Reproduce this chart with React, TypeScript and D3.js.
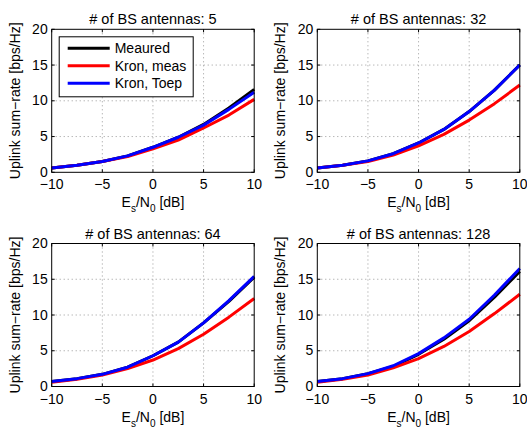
import React from "react";
import * as d3 from "d3";

const snr = [-10, -7.5, -5, -2.5, 0, 2.5, 5, 7.5, 10];
const panelTitles = ["# of BS antennas: 5", "# of BS antennas: 32", "# of BS antennas: 64", "# of BS antennas: 128"];
const seriesNames = ["Meaured", "Kron, meas", "Kron, Toep"];
const seriesColors = ["#000000", "#ff0000", "#0000ff"];

const measured5 = [0.6, 1.0, 1.5, 2.3, 3.5, 4.9, 6.7, 9.0, 11.6];
const kronMeas5 = [0.6, 1.0, 1.5, 2.2, 3.3, 4.5, 6.2, 8.0, 10.2];
const kronToep5 = [0.6, 1.0, 1.5, 2.3, 3.5, 4.9, 6.6, 8.8, 11.2];

const measured32 = [0.6, 1.0, 1.6, 2.6, 4.1, 6.0, 8.5, 11.5, 15.0];
const kronMeas32 = [0.6, 1.0, 1.5, 2.4, 3.7, 5.3, 7.3, 9.6, 12.2];
const kronToep32 = [0.6, 1.0, 1.6, 2.6, 4.1, 6.0, 8.5, 11.5, 15.0];

const measured64 = [0.7, 1.1, 1.7, 2.7, 4.3, 6.2, 8.9, 11.9, 15.3];
const kronMeas64 = [0.6, 1.0, 1.6, 2.5, 3.7, 5.3, 7.3, 9.7, 12.3];
const kronToep64 = [0.7, 1.1, 1.7, 2.7, 4.3, 6.2, 8.9, 12.0, 15.4];

const measured128 = [0.7, 1.1, 1.8, 2.8, 4.5, 6.6, 9.2, 12.5, 16.1];
const kronMeas128 = [0.6, 1.0, 1.6, 2.6, 3.9, 5.6, 7.7, 10.2, 12.9];
const kronToep128 = [0.7, 1.1, 1.8, 2.9, 4.6, 6.8, 9.4, 12.8, 16.5];

const xTicks = [-10, -5, 0, 5, 10];
const yTicks = [0, 5, 10, 15, 20];

const panels = [
  [measured5, kronMeas5, kronToep5],
  [measured32, kronMeas32, kronToep32],
  [measured64, kronMeas64, kronToep64],
  [measured128, kronMeas128, kronToep128],
];

const FONT = "'Liberation Sans', Arial, Helvetica, sans-serif";
const FS = 14;
const fmt = (v: number) => (v < 0 ? "\u2212" + Math.abs(v) : String(v));

function Panel({ idx, x0, y0 }: { idx: number; x0: number; y0: number }) {
  const w = 202.5;
  const h = 143;
  const x = d3.scaleLinear().domain([-10, 10]).range([x0, x0 + w]);
  const y = d3.scaleLinear().domain([0, 20]).range([y0 + h, y0]);
  const line = d3
    .line<number>()
    .x((_, i) => x(snr[i]))
    .y((d) => y(d));
  const tl = 3;
  return (
    <g>
      {xTicks.slice(1, -1).map((t) => (
        <line key={"gx" + t} x1={x(t)} x2={x(t)} y1={y0} y2={y0 + h} stroke="#999" strokeWidth={1} strokeDasharray="1,3" />
      ))}
      {yTicks.slice(1, -1).map((t) => (
        <line key={"gy" + t} x1={x0} x2={x0 + w} y1={y(t)} y2={y(t)} stroke="#999" strokeWidth={1} strokeDasharray="1,3" />
      ))}
      {xTicks.map((t) => (
        <g key={"tx" + t}>
          <line x1={x(t)} x2={x(t)} y1={y0 + h} y2={y0 + h - tl} stroke="#000" />
          <line x1={x(t)} x2={x(t)} y1={y0} y2={y0 + tl} stroke="#000" />
          <text x={x(t)} y={y0 + h + 17} textAnchor="middle" fontSize={FS} fontFamily={FONT}>
            {fmt(t)}
          </text>
        </g>
      ))}
      {yTicks.map((t) => (
        <g key={"ty" + t}>
          <line x1={x0} x2={x0 + tl} y1={y(t)} y2={y(t)} stroke="#000" />
          <line x1={x0 + w} x2={x0 + w - tl} y1={y(t)} y2={y(t)} stroke="#000" />
          <text x={x0 - 4} y={y(t) + 4.5} textAnchor="end" fontSize={FS} fontFamily={FONT}>
            {fmt(t)}
          </text>
        </g>
      ))}
      {panels[idx].map((vals, s) => (
        <path key={"s" + s} d={line(vals) || ""} fill="none" stroke={seriesColors[s]} strokeWidth={3} strokeLinejoin="round" />
      ))}
      <rect x={x0} y={y0} width={w} height={h} fill="none" stroke="#000" strokeWidth={1} />
      <text x={x0 + w / 2} y={y0 - 5} textAnchor="middle" fontSize={14.5} fontFamily={FONT}>
        {panelTitles[idx]}
      </text>
      <text x={x0 + w / 2} y={y0 + h + 35} textAnchor="middle" fontSize={FS} fontFamily={FONT}>
        E<tspan dy={5} fontSize={10}>s</tspan>
        <tspan dy={-5}>/N</tspan>
        <tspan dy={5} fontSize={10}>0</tspan>
        <tspan dy={-5}> [dB]</tspan>
      </text>
      <text
        transform={`translate(${x0 - 32},${y0 + h / 2}) rotate(-90)`}
        textAnchor="middle"
        fontSize={FS}
        fontFamily={FONT}
      >
        Uplink sum−rate [bps/Hz]
      </text>
      {idx === 0 && (
        <g>
          <rect x={x0 + 7.5} y={y0 + 7.5} width={134} height={60} fill="#fff" stroke="#000" strokeWidth={1} />
          {seriesNames.map((n, s) => (
            <g key={n}>
              <line x1={x0 + 16} x2={x0 + 58} y1={y0 + 19 + s * 17.5} y2={y0 + 19 + s * 17.5} stroke={seriesColors[s]} strokeWidth={3} />
              <text x={x0 + 63} y={y0 + 24 + s * 17.5} fontSize={FS} fontFamily={FONT}>
                {n}
              </text>
            </g>
          ))}
        </g>
      )}
    </g>
  );
}

export default function App() {
  return (
    <svg width={527} height={427} style={{ position: "absolute", left: 0, top: 0, background: "#fff" }}>
      <rect width={527} height={427} fill="#fff" />
      <Panel idx={0} x0={51.7} y0={29.3} />
      <Panel idx={1} x0={317.3} y0={29.3} />
      <Panel idx={2} x0={51.7} y0={243.5} />
      <Panel idx={3} x0={317.3} y0={243.5} />
    </svg>
  );
}
